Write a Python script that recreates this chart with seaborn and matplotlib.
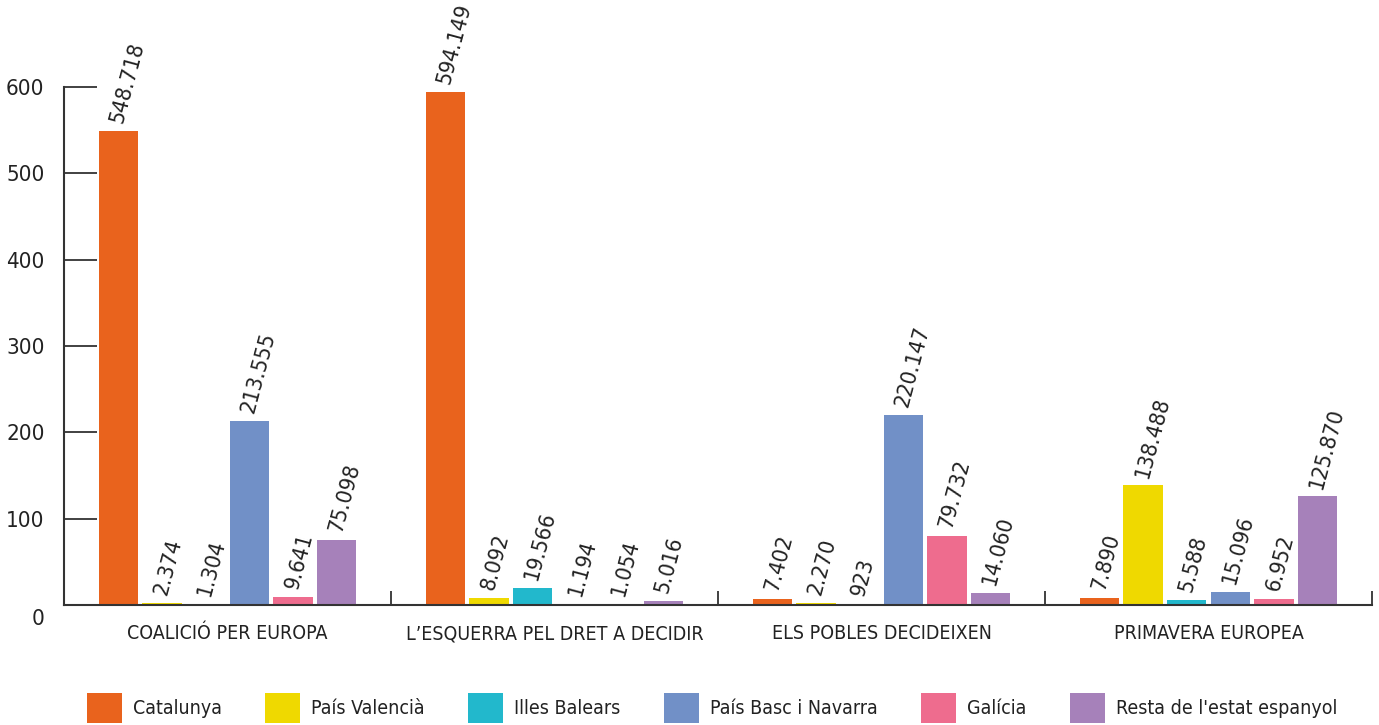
import matplotlib
matplotlib.use("Agg")
import matplotlib.pyplot as plt
import matplotlib.transforms as mtransforms
from matplotlib import font_manager as fm
from matplotlib.patches import Patch
import seaborn as sns
import pandas as pd

# ---- data ----
candidatures = ["COALICIÓ PER EUROPA", "L’ESQUERRA PEL DRET A DECIDIR",
                "ELS POBLES DECIDEIXEN", "PRIMAVERA EUROPEA"]
territoris = ["Catalunya", "País Valencià", "Illes Balears",
              "País Basc i Navarra", "Galícia", "Resta de l'estat espanyol"]
catalunya = [548718, 594149, 7402, 7890]
pais_valencia = [2374, 8092, 2270, 138488]
illes_balears = [1304, 19566, 923, 5588]
pais_basc = [213555, 1194, 220147, 15096]
galicia = [9641, 1054, 79732, 6952]
resta = [75098, 5016, 14060, 125870]
yticks = [0, 100, 200, 300, 400, 500, 600]

colors = ["#E9631D", "#EFD900", "#22B8CC", "#7190C7", "#EE6C8E", "#A681BA"]

series = [catalunya, pais_valencia, illes_balears, pais_basc, galicia, resta]
rows = []
for terr, vals in zip(territoris, series):
    for cand, v in zip(candidatures, vals):
        rows.append({"cand": cand, "terr": terr, "vots": v, "milers": v / 1000})
df = pd.DataFrame(rows)

sns.set_style("white")

# pick a narrow font if one is installed
names = {f.name for f in fm.fontManager.ttflist}
cond_files = [f for f in fm.fontManager.ttflist
              if ("condensed" in f.fname.lower() or "narrow" in f.fname.lower())
              and "bold" not in f.fname.lower() and "oblique" not in f.fname.lower()
              and "italic" not in f.fname.lower()]
if "Liberation Sans Narrow" in names:
    plt.rcParams["font.family"] = ["Liberation Sans Narrow", "DejaVu Sans"]
elif cond_files:
    fm.fontManager.addfont(cond_files[0].fname)
    plt.rcParams["font.family"] = [cond_files[0].name, "DejaVu Sans"]
    plt.rcParams["font.stretch"] = cond_files[0].stretch
else:
    plt.rcParams["font.family"] = ["DejaVu Sans"]
    plt.rcParams["font.stretch"] = "condensed"

TXT = "#222222"

fig = plt.figure(figsize=(13.79, 7.25), dpi=100)
W, H = 1379, 725
ax = fig.add_axes([64 / W, 1 - 605 / H, (1372 - 64) / W, (605 - 87) / H])

sns.barplot(data=df, x="cand", y="milers", hue="terr", order=candidatures,
            hue_order=territoris, palette=colors, width=0.8, gap=0.1,
            saturation=1, ax=ax, legend=False, errorbar=None, linewidth=0)

def fmt(v):
    return f"{v:,}".replace(",", ".")

for cont, vals in zip(ax.containers, series):
    for bar, v in zip(cont, vals):
        cx = bar.get_x() + bar.get_width() / 2
        ax.annotate(fmt(v), (cx, bar.get_height()), xytext=(-1, 6),
                    textcoords="offset points", rotation=75,
                    rotation_mode="anchor", ha="left", va="center",
                    fontsize=16, color=TXT, annotation_clip=False)

ax.set_xlim(-0.5, 3.5)
ax.set_ylim(0, 600)
ax.set_yticks(yticks)
ax.set_yticklabels([str(t) for t in yticks])
ax.set_xlabel("")
ax.set_ylabel("")
sns.despine(ax=ax, top=True, right=True)
for s in ["left", "bottom"]:
    ax.spines[s].set_color("#333333")
    ax.spines[s].set_linewidth(1.5)

ax.tick_params(axis="y", direction="in", length=24, width=1.3, color="#333333",
               labelsize=16, labelcolor=TXT, pad=14, left=True)
ax.tick_params(axis="x", which="major", length=0, labelsize=14,
               labelcolor=TXT, pad=14)
ax.set_xticks([0.5, 1.5, 2.5, 3.5], minor=True)
ax.tick_params(axis="x", which="minor", direction="in", length=10, width=1.3,
               color="#333333", bottom=True)

# shift the "0" label down a bit like the reference
lab0 = ax.get_yticklabels()[0]
lab0.set_transform(lab0.get_transform() +
                   mtransforms.ScaledTranslation(0, -12 / 100, fig.dpi_scale_trans))

handles = [Patch(facecolor=c, edgecolor="none") for c in colors]
fig.legend(handles, territoris, loc="upper center",
           bbox_to_anchor=(712 / W, 1 - 693 / H), ncol=6, frameon=False,
           fontsize=14, handlelength=1.8, handleheight=2.0,
           handletextpad=0.55, columnspacing=2.25, labelcolor=TXT,
           borderaxespad=0, borderpad=0)

fig.savefig("out.png", dpi=100, facecolor="white")
